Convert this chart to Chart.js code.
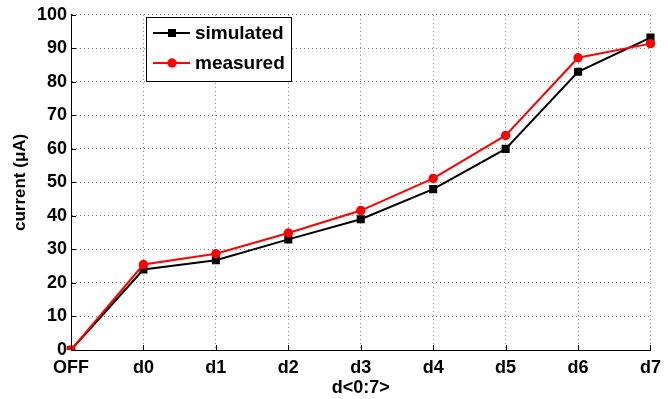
<!DOCTYPE html>
<html lang="en">
<head>
  <meta charset="UTF-8" />
  <title>current vs d&lt;0:7&gt;</title>
  <script src="https://cdn.jsdelivr.net/npm/chart.js"></script>
  <style>
    html, body { margin: 0; padding: 0; background: #fff; }
    #wrap { width: 668px; height: 399px; }
  </style>
</head>
<body>
  <div id="wrap"><canvas id="currentChart"></canvas></div>

  <script>
    // data
    const codes = ['OFF', 'd0', 'd1', 'd2', 'd3', 'd4', 'd5', 'd6', 'd7'];
    const simulated = [0, 24, 26.8, 33, 39, 48, 60, 83, 93.2];
    const measured = [0, 25.5, 28.7, 34.9, 41.6, 51.2, 64, 87.2, 91.4];
    const yTicks = [0, 10, 20, 30, 40, 50, 60, 70, 80, 90, 100];

    const FONT = 'Liberation Sans, Arial, Helvetica, sans-serif';

    // MATLAB-style legend box inside the axes + inward tick marks
    const matlabBits = {
      id: 'matlabBits',
      afterDraw(chart) {
        const { ctx, chartArea, scales } = chart;
        ctx.save();

        // inward ticks
        ctx.strokeStyle = '#000';
        ctx.lineWidth = 1;
        ctx.beginPath();
        yTicks.forEach(v => {
          const y = Math.round(scales.y.getPixelForValue(v)) + 0.5;
          ctx.moveTo(chartArea.left, y);
          ctx.lineTo(chartArea.left + 5, y);
        });
        codes.forEach((c, i) => {
          const x = Math.round(scales.x.getPixelForValue(i)) + 0.5;
          ctx.moveTo(x, chartArea.bottom);
          ctx.lineTo(x, chartArea.bottom - 5);
        });
        ctx.stroke();

        // legend
        const bx = 146.5, by = 17.5, bw = 145, bh = 64;
        ctx.fillStyle = '#fff';
        ctx.fillRect(bx, by, bw, bh);
        ctx.strokeStyle = '#000';
        ctx.lineWidth = 1;
        ctx.strokeRect(bx, by, bw, bh);

        const items = [
          { label: 'simulated', color: '#000', style: 'rect', y: 33 },
          { label: 'measured', color: '#ff0000', style: 'circle', y: 63 }
        ];
        items.forEach(it => {
          ctx.strokeStyle = it.color;
          ctx.lineWidth = 2;
          ctx.beginPath();
          ctx.moveTo(153, it.y);
          ctx.lineTo(190, it.y);
          ctx.stroke();
          ctx.fillStyle = it.color;
          if (it.style === 'rect') {
            ctx.fillRect(168, it.y - 4, 8, 8);
          } else {
            ctx.beginPath();
            ctx.arc(172, it.y, 4.7, 0, Math.PI * 2);
            ctx.fill();
          }
          ctx.fillStyle = '#000';
          ctx.font = 'bold 19px ' + FONT;
          ctx.textBaseline = 'middle';
          ctx.textAlign = 'left';
          ctx.fillText(it.label, 195, it.y + 1);
        });

        ctx.restore();
      }
    };

    const ctx = document.getElementById('currentChart');
    new Chart(ctx, {
      type: 'line',
      data: {
        labels: codes,
        datasets: [
          {
            label: 'simulated',
            data: simulated,
            borderColor: '#000',
            backgroundColor: '#000',
            borderWidth: 2,
            pointStyle: 'rect',
            pointRadius: 5.7,
            pointBorderWidth: 0,
            tension: 0,
            order: 1
          },
          {
            label: 'measured',
            data: measured,
            borderColor: '#ff0000',
            backgroundColor: '#ff0000',
            borderWidth: 2,
            pointStyle: 'circle',
            pointRadius: 4.7,
            pointBorderWidth: 0,
            tension: 0,
            order: 0
          }
        ]
      },
      options: {
        responsive: true,
        maintainAspectRatio: false,
        animation: false,
        layout: { padding: { left: 0, right: 12, top: 13, bottom: 0 } },
        plugins: {
          legend: { display: false },
          tooltip: { enabled: false }
        },
        scales: {
          x: {
            type: 'category',
            offset: false,
            afterFit(scale) { scale.height = 49; },
            grid: { color: 'rgba(0,0,0,0.5)', drawTicks: false, lineWidth: 1 },
            border: { display: true, color: '#000', width: 1, dash: [1, 3] },
            ticks: {
              color: '#000',
              padding: 7,
              maxRotation: 0,
              autoSkip: false,
              font: { family: FONT, size: 18, weight: 'bold' }
            },
            title: {
              display: true,
              text: 'd<0:7>',
              color: '#000',
              padding: { top: 0, bottom: 0 },
              font: { family: FONT, size: 18, weight: 'bold' }
            }
          },
          y: {
            min: 0,
            max: 100,
            afterFit(scale) { scale.width = 71; },
            afterBuildTicks(scale) { scale.ticks = yTicks.map(v => ({ value: v })); },
            grid: { color: 'rgba(0,0,0,0.5)', drawTicks: false, lineWidth: 1 },
            border: { display: true, color: '#000', width: 1, dash: [1, 3] },
            ticks: {
              color: '#000',
              padding: 4,
              font: { family: FONT, size: 18, weight: 'bold' }
            },
            title: {
              display: true,
              text: 'current (\u03BCA)',
              color: '#000',
              padding: { top: 10, bottom: 0 },
              font: { family: FONT, size: 17, weight: 'bold' }
            }
          }
        }
      },
      plugins: [matlabBits]
    });
  </script>
</body>
</html>
